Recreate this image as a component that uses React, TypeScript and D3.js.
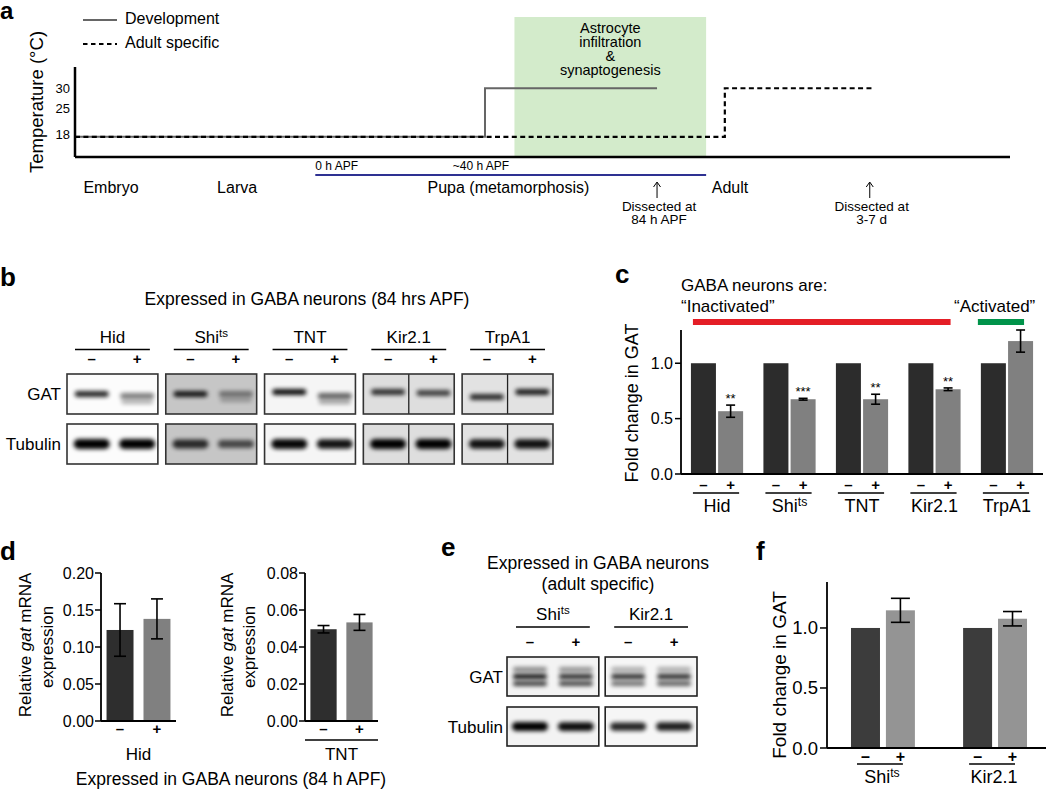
import React from 'react';
import * as d3 from 'd3';

const FONT = "'Liberation Sans', Arial, Helvetica, sans-serif";

// ---- panel a: temperature protocol (x in arbitrary developmental time units)
const tempTicks = [30, 25, 18];
const devSteps = [[0, 18], [43.85, 18], [43.85, 30], [62.25, 30]];
const adultSteps = [[0, 18], [69.5, 18], [69.5, 30], [85.2, 30]];
const stageNames = ['Embryo', 'Larva', 'Pupa (metamorphosis)', 'Adult'];
const stageStarts = [0.9, 15.2, 37.7, 68.1];
const synapseWindow = [47, 67.5];
const windowText = ['Astrocyte', 'infiltration', '&', 'synaptogenesis'];
const pupaSpan = [25.7, 67.5];
const apfNames = ['0 h APF', '~40 h APF'];
const apfStarts = [25.7, 40.4];
const dissectAt = [62.25, 85.0];
const dissectText = [['Dissected at', '84 h APF'], ['Dissected at', '3-7 d']];

// ---- panel b: blots at 84 h APF
const blotGroups = ['Hid', 'Shits', 'TNT', 'Kir2.1', 'TrpA1'];
const blotRows = ['GAT', 'Tubulin'];
const gatBand = [[0.85, 0.5], [0.9, 0.45], [0.95, 0.6], [0.8, 0.72], [0.82, 0.88]];
const gatShift = [[0, 2], [0, 0], [-2, 2], [-2, -1], [3, -2]];
const tubBand = [[1, 1], [0.8, 0.65], [0.97, 0.92], [1, 1], [0.92, 0.92]];
const blotBg = ['#fcfcfc', '#c6c6c6', '#f5f5f5', '#dedede', '#e2e2e2'];
const blotSplit = [false, false, false, true, true];

// ---- panel c: quantification
const cGroups = blotGroups;
const cMinus = [1, 1, 1, 1, 1];
const cPlus = [0.567, 0.675, 0.675, 0.765, 1.2];
const cErr = [0.055, 0.008, 0.045, 0.012, 0.1];
const cStars = ['**', '***', '**', '**', ''];
const cTicks = [0, 0.5, 1.0];

// ---- panel d: qPCR
const dLeftVals = [0.123, 0.138];
const dLeftErr = [0.0355, 0.027];
const dLeftTicks = [0, 0.05, 0.1, 0.15, 0.2];
const dRightVals = [0.0496, 0.0533];
const dRightErr = [0.002, 0.0043];
const dRightTicks = [0, 0.02, 0.04, 0.06, 0.08];

// ---- panel e: adult specific blots
const eGroups = ['Shits', 'Kir2.1'];
const eGatTriplet = [[[0.45, 0.95, 0.75], [0.4, 0.85, 0.72]], [[0.3, 0.85, 0.55], [0.3, 0.85, 0.62]]];
const eTub = [[1, 0.95], [0.85, 0.88]];

// ---- panel f
const fGroups = ['Shits', 'Kir2.1'];
const fMinus = [1, 1];
const fPlus = [1.147, 1.077];
const fErr = [0.1, 0.06];
const fTicks = [0, 0.5, 1.0];

const signs = ['-', '+'];
const fmt1 = d3.format('.1f');
const fmt2 = d3.format('.2f');

const Name = ({ name, x, y, size }: any) => (
  <text x={x} y={y} fontSize={size} textAnchor="middle">
    {name === 'Shits' ? (
      <>Shi<tspan fontSize={size * 0.68} dy={-size * 0.33}>ts</tspan></>
    ) : name}
  </text>
);

const Sign = ({ s, x, y, size }: any) => (
  <text x={x} y={y} fontSize={size} fontWeight="bold" textAnchor="middle">{s === '-' ? '–' : '+'}</text>
);

const VText = ({ x, y, size, children }: any) => (
  <text transform={`translate(${x},${y}) rotate(-90)`} textAnchor="middle" fontSize={size} dy="0.35em">{children}</text>
);

const Band = ({ cx, cy, w, h, o }: any) => (
  <rect x={cx - w / 2} y={cy - h / 2} width={w} height={h} rx={h / 2} fill="#000" opacity={o} filter="url(#blur)" />
);

const ErrBar = ({ x, y0, y1, cap }: any) => (
  <g stroke="#000" strokeWidth={1.6}>
    <line x1={x} x2={x} y1={y0} y2={y1} />
    <line x1={x - cap / 2} x2={x + cap / 2} y1={y0} y2={y0} />
    <line x1={x - cap / 2} x2={x + cap / 2} y1={y1} y2={y1} />
  </g>
);

const App = () => {
  // panel a scales
  const aX = d3.scaleLinear().domain([0, 100]).range([75, 1010]);
  const aY = d3.scaleLinear().domain([13, 35.25]).range([157, 67]);
  const line: any = d3.line().x((d: any) => aX(d[0])).y((d: any) => aY(d[1]));

  // panel b
  const bX = d3.scaleBand().domain(blotGroups).range([67, 553]).paddingInner(0.08);
  const bRow = d3.scaleBand().domain(blotRows).range([374, 464]).paddingInner(0.2);
  const bLane = d3.scalePoint().domain(signs).range([2, bX.bandwidth() + 2]).padding(0.5);

  // panel c
  const cY = d3.scaleLinear().domain([0, 1.3]).range([474, 330]);
  const cX = d3.scaleBand().domain(cGroups).range([681, 1043]).paddingInner(0.28).paddingOuter(0.137);
  const cS = d3.scaleBand().domain(signs).range([0, cX.bandwidth()]).paddingInner(0.08);

  // panel d
  const dLY = d3.scaleLinear().domain([0, 0.2]).range([721, 573]);
  const dRY = d3.scaleLinear().domain([0, 0.08]).range([721, 573]);
  const dLX = d3.scaleBand().domain(signs).range([101, 176]).paddingInner(0.27).paddingOuter(0.15);
  const dRX = d3.scaleBand().domain(signs).range([305, 378]).paddingInner(0.27).paddingOuter(0.15);

  // panel e
  const eX = d3.scaleBand().domain(eGroups).range([507, 697]).paddingInner(0.065);
  const eRow = d3.scaleBand().domain(blotRows).range([657, 746]).paddingInner(0.22);
  const eLane = d3.scalePoint().domain(signs).range([0, eX.bandwidth()]).padding(0.5);

  // panel f
  const fY = d3.scaleLinear().domain([0, 1.383]).range([748, 582]);
  const fX = d3.scaleBand().domain(fGroups).range([827, 1051]).paddingInner(0.43).paddingOuter(0.214);
  const fS = d3.scaleBand().domain(signs).range([0, fX.bandwidth()]).paddingInner(0.17);

  const dPanel = (xs: any, ys: any, vals: number[], errs: number[], ticks: number[], x0: number, x1: number) => (
    <g>
      {ticks.map((t) => (
        <g key={t}>
          <line x1={x0 - 6} x2={x0} y1={ys(t)} y2={ys(t)} stroke="#000" strokeWidth={1.5} />
          <text x={x0 - 7} y={ys(t) + 5.5} fontSize={16} textAnchor="end">{fmt2(t)}</text>
        </g>
      ))}
      {signs.map((s, i) => (
        <rect key={s} x={xs(s)} y={ys(vals[i])} width={xs.bandwidth()} height={ys(0) - ys(vals[i])}
          fill={i === 0 ? '#2e2e2e' : '#808080'} />
      ))}
      {signs.map((s, i) => (
        <ErrBar key={s} x={xs(s) + xs.bandwidth() / 2} y0={ys(vals[i] - errs[i])} y1={ys(vals[i] + errs[i])} cap={12} />
      ))}
      <line x1={x0} x2={x0} y1={ys(ticks[ticks.length - 1])} y2={ys(0)} stroke="#000" strokeWidth={1.8} />
      <line x1={x0} x2={x1} y1={ys(0)} y2={ys(0)} stroke="#000" strokeWidth={1.8} />
      {signs.map((s) => <Sign key={s} s={s} x={xs(s) + xs.bandwidth() / 2} y={734} size={15} />)}
    </g>
  );

  return (
    <svg width={1050} height={789} style={{ position: 'absolute', left: 0, top: 0, background: '#fff' }}
      fontFamily={FONT}>
      <defs>
        <filter id="blur" x="-30%" y="-150%" width="160%" height="400%">
          <feGaussianBlur stdDeviation="2" />
        </filter>
      </defs>

      {/* ================= a ================= */}
      <text x={0} y={19} fontSize={24} fontWeight="bold">a</text>
      <rect x={aX(synapseWindow[0])} y={17} width={aX(synapseWindow[1]) - aX(synapseWindow[0])}
        height={aY(13) - 17} fill="#d3ebcb" />
      {windowText.map((t, i) => (
        <text key={t} x={aX((synapseWindow[0] + synapseWindow[1]) / 2)} y={33 + i * 14} fontSize={14.5}
          textAnchor="middle">{t}</text>
      ))}
      <line x1={83} x2={117} y1={20} y2={20} stroke="#666" strokeWidth={2} />
      <text x={125} y={24} fontSize={16}>Development</text>
      <line x1={83} x2={117} y1={44} y2={44} stroke="#000" strokeWidth={2} strokeDasharray="4.5,3.5" />
      <text x={125} y={48} fontSize={16}>Adult specific</text>
      <VText x={37} y={102} size={18.5}>Temperature (°C)</VText>
      {tempTicks.map((t) => (
        <text key={t} x={70} y={aY(t) + (t === 18 ? 2 : 5)} fontSize={13} textAnchor="end">{t}</text>
      ))}
      <path d={line(devSteps)} fill="none" stroke="#666" strokeWidth={2} />
      <path d={line(adultSteps)} fill="none" stroke="#000" strokeWidth={2.2} strokeDasharray="5,3.4" />
      <line x1={aX(0)} x2={aX(0)} y1={aY(35.25)} y2={aY(13)} stroke="#000" strokeWidth={2.5} />
      <line x1={aX(0)} x2={aX(100)} y1={aY(13)} y2={aY(13)} stroke="#000" strokeWidth={2.5} />
      <line x1={aX(pupaSpan[0])} x2={aX(pupaSpan[1])} y1={175} y2={175} stroke="#2e3192" strokeWidth={2} />
      {apfNames.map((t, i) => (
        <text key={t} x={aX(apfStarts[i])} y={170} fontSize={12}>{t}</text>
      ))}
      {stageNames.map((t, i) => (
        <text key={t} x={aX(stageStarts[i])} y={193} fontSize={16}>{t}</text>
      ))}
      {dissectAt.map((t, i) => (
        <g key={i}>
          <line x1={aX(t)} x2={aX(t)} y1={183} y2={198} stroke="#000" strokeWidth={1} />
          <path d={`M${aX(t) - 3.5},${187} L${aX(t)},${182} L${aX(t) + 3.5},${187}`} fill="none" stroke="#000" strokeWidth={1} />
          {dissectText[i].map((s, j) => (
            <text key={j} x={aX(t) + 2} y={211 + j * 13} fontSize={13.5} textAnchor="middle">{s}</text>
          ))}
        </g>
      ))}

      {/* ================= b ================= */}
      <text x={0} y={286} fontSize={26} fontWeight="bold">b</text>
      <text x={307} y={305} fontSize={17.5} textAnchor="middle">Expressed in GABA neurons (84 hrs APF)</text>
      {blotRows.map((r) => (
        <text key={r} x={61} y={bRow(r)! + bRow.bandwidth() / 2 + 6} fontSize={17} textAnchor="end">{r}</text>
      ))}
      {blotGroups.map((g, gi) => {
        const x0 = bX(g)!;
        const w = bX.bandwidth();
        return (
          <g key={g}>
            <Name name={g} x={x0 + w / 2} y={343} size={17} />
            <line x1={x0 + 8} x2={x0 + w - 8} y1={349.5} y2={349.5} stroke="#000" strokeWidth={1.5} />
            {signs.map((s) => <Sign key={s} s={s} x={x0 + bLane(s)!} y={364} size={15} />)}
            {blotRows.map((r) => {
              const y0 = bRow(r)!;
              const h = bRow.bandwidth();
              return (
                <g key={r}>
                  <rect x={x0} y={y0} width={w} height={h} fill={blotBg[gi]} />
                  {signs.map((s, li) =>
                    r === 'GAT' ? (
                      <g key={s}>
                        <Band cx={x0 + bLane(s)!} cy={y0 + h / 2 + gatShift[gi][li]} w={34} h={6} o={gatBand[gi][li]} />
                        {gatBand[gi][li] < 0.65 && (
                          <Band cx={x0 + bLane(s)!} cy={y0 + h / 2 + gatShift[gi][li] + 6} w={32} h={4} o={gatBand[gi][li] * 0.6} />
                        )}
                      </g>
                    ) : (
                      <Band key={s} cx={x0 + bLane(s)!} cy={y0 + h / 2} w={36} h={4 + 6 * tubBand[gi][li]} o={tubBand[gi][li]} />
                    )
                  )}
                  {blotSplit[gi] && <line x1={x0 + w / 2} x2={x0 + w / 2} y1={y0} y2={y0 + h} stroke="#222" strokeWidth={1.3} />}
                  <rect x={x0} y={y0} width={w} height={h} fill="none" stroke="#333" strokeWidth={1.6} />
                </g>
              );
            })}
          </g>
        );
      })}

      {/* ================= c ================= */}
      <text x={615} y={283} fontSize={26} fontWeight="bold">c</text>
      <text x={681} y={291} fontSize={17}>GABA neurons are:</text>
      <text x={681} y={312} fontSize={17}>“Inactivated”</text>
      <text x={954} y={312} fontSize={17}>“Activated”</text>
      <rect x={cX('Hid')! + 2} y={319} width={cX('Kir2.1')! + cX.bandwidth() - 10 - cX('Hid')! - 2} height={6} fill="#e41e26" />
      <rect x={cX('TrpA1')! - 3} y={319} width={cX.bandwidth() - 6} height={6} fill="#00934a" />
      <VText x={632} y={403} size={18}>Fold change in GAT</VText>
      {cTicks.map((t) => (
        <g key={t}>
          <line x1={675} x2={681} y1={cY(t)} y2={cY(t)} stroke="#000" strokeWidth={1.5} />
          <text x={673} y={cY(t) + 5.5} fontSize={16} textAnchor="end">{fmt1(t)}</text>
        </g>
      ))}
      {cGroups.map((g, i) => {
        const x0 = cX(g)!;
        const bw = cS.bandwidth();
        const xp = x0 + cS('+')! + bw / 2;
        return (
          <g key={g}>
            <rect x={x0 + cS('-')!} y={cY(cMinus[i])} width={bw} height={cY(0) - cY(cMinus[i])} fill="#2c2c2c" />
            <rect x={x0 + cS('+')!} y={cY(cPlus[i])} width={bw} height={cY(0) - cY(cPlus[i])} fill="#808080" />
            <ErrBar x={xp} y0={cY(cPlus[i] - cErr[i])} y1={cY(cPlus[i] + cErr[i])} cap={9} />
            {cStars[i] && (
              <text x={xp} y={cY(cPlus[i] + cErr[i]) - 2} fontSize={13} textAnchor="middle">{cStars[i]}</text>
            )}
            {signs.map((s) => <Sign key={s} s={s} x={x0 + cS(s)! + bw / 2} y={490} size={15} />)}
            <line x1={x0 + 2} x2={x0 + cX.bandwidth() - 4} y1={493} y2={493} stroke="#000" strokeWidth={1.5} />
            <Name name={g} x={x0 + cX.bandwidth() / 2} y={512} size={18} />
          </g>
        );
      })}
      <line x1={681} x2={681} y1={cY(1.3)} y2={cY(0)} stroke="#000" strokeWidth={1.8} />
      <line x1={681} x2={1043} y1={cY(0)} y2={cY(0)} stroke="#000" strokeWidth={1.8} />

      {/* ================= d ================= */}
      <text x={0} y={560} fontSize={26} fontWeight="bold">d</text>
      <VText x={25} y={645} size={17}>Relative <tspan fontStyle="italic">gat</tspan> mRNA</VText>
      <VText x={47} y={647} size={17}>expression</VText>
      {dPanel(dLX, dLY, dLeftVals, dLeftErr, dLeftTicks, 101, 176)}
      <text x={138.5} y={760} fontSize={17} textAnchor="middle">Hid</text>
      <VText x={227} y={645} size={17}>Relative <tspan fontStyle="italic">gat</tspan> mRNA</VText>
      <VText x={249} y={647} size={17}>expression</VText>
      {dPanel(dRX, dRY, dRightVals, dRightErr, dRightTicks, 305, 378)}
      <line x1={305} x2={378} y1={740} y2={740} stroke="#000" strokeWidth={1.5} />
      <text x={341.5} y={760} fontSize={17} textAnchor="middle">TNT</text>
      <text x={231} y={785} fontSize={17.5} textAnchor="middle">Expressed in GABA neurons (84 h APF)</text>

      {/* ================= e ================= */}
      <text x={441} y={556} fontSize={26} fontWeight="bold">e</text>
      <text x={598} y={569} fontSize={17.5} textAnchor="middle">Expressed in GABA neurons</text>
      <text x={598} y={590} fontSize={17.5} textAnchor="middle">(adult specific)</text>
      {blotRows.map((r) => (
        <text key={r} x={503} y={eRow(r)! + eRow.bandwidth() / 2 + 6} fontSize={17} textAnchor="end">{r}</text>
      ))}
      {eGroups.map((g, gi) => {
        const x0 = eX(g)!;
        const w = eX.bandwidth();
        return (
          <g key={g}>
            <Name name={g} x={x0 + w / 2} y={620} size={17} />
            <line x1={x0 + 9} x2={x0 + w - 9} y1={627} y2={627} stroke="#000" strokeWidth={1.5} />
            {signs.map((s) => <Sign key={s} s={s} x={x0 + eLane(s)!} y={647} size={15} />)}
            {blotRows.map((r) => {
              const y0 = eRow(r)!;
              const h = eRow.bandwidth();
              return (
                <g key={r}>
                  <rect x={x0} y={y0} width={w} height={h} fill={gi === 0 ? '#f3f3f3' : '#f6f6f6'} />
                  {signs.map((s, li) =>
                    r === 'GAT' ? (
                      <g key={s}>
                        {eGatTriplet[gi][li].map((o, k) => (
                          <Band key={k} cx={x0 + eLane(s)!} cy={y0 + h / 2 - 7 + k * 7} w={34} h={5} o={o} />
                        ))}
                      </g>
                    ) : (
                      <Band key={s} cx={x0 + eLane(s)!} cy={y0 + h / 2} w={36} h={4 + 5 * eTub[gi][li]} o={eTub[gi][li]} />
                    )
                  )}
                  <rect x={x0} y={y0} width={w} height={h} fill="none" stroke="#222" strokeWidth={1.6} />
                </g>
              );
            })}
          </g>
        );
      })}

      {/* ================= f ================= */}
      <text x={756} y={560} fontSize={26} fontWeight="bold">f</text>
      <VText x={779} y={675} size={19}>Fold change in GAT</VText>
      {fTicks.map((t) => (
        <g key={t}>
          <line x1={820} x2={827} y1={fY(t)} y2={fY(t)} stroke="#000" strokeWidth={1.5} />
          <text x={818} y={fY(t) + 6.5} fontSize={18.5} textAnchor="end">{fmt1(t)}</text>
        </g>
      ))}
      {fGroups.map((g, i) => {
        const x0 = fX(g)!;
        const bw = fS.bandwidth();
        const xp = x0 + fS('+')! + bw / 2;
        return (
          <g key={g}>
            <rect x={x0 + fS('-')!} y={fY(fMinus[i])} width={bw} height={fY(0) - fY(fMinus[i])} fill="#3c3c3c" />
            <rect x={x0 + fS('+')!} y={fY(fPlus[i])} width={bw} height={fY(0) - fY(fPlus[i])} fill="#949494" />
            <ErrBar x={xp} y0={fY(fPlus[i] - fErr[i])} y1={fY(fPlus[i] + fErr[i])} cap={19} />
            {signs.map((s) => <Sign key={s} s={s} x={x0 + fS(s)! + bw / 2} y={762} size={16} />)}
            <line x1={x0 + 6} x2={x0 + fX.bandwidth() - 12} y1={764} y2={764} stroke="#000" strokeWidth={1.5} />
            <Name name={g} x={x0 + fX.bandwidth() / 2 - 1} y={783} size={18} />
          </g>
        );
      })}
      <line x1={827} x2={827} y1={fY(1.383)} y2={fY(0)} stroke="#000" strokeWidth={1.8} />
      <line x1={827} x2={1046} y1={fY(0)} y2={fY(0)} stroke="#000" strokeWidth={1.8} />
    </svg>
  );
};

export default App;
